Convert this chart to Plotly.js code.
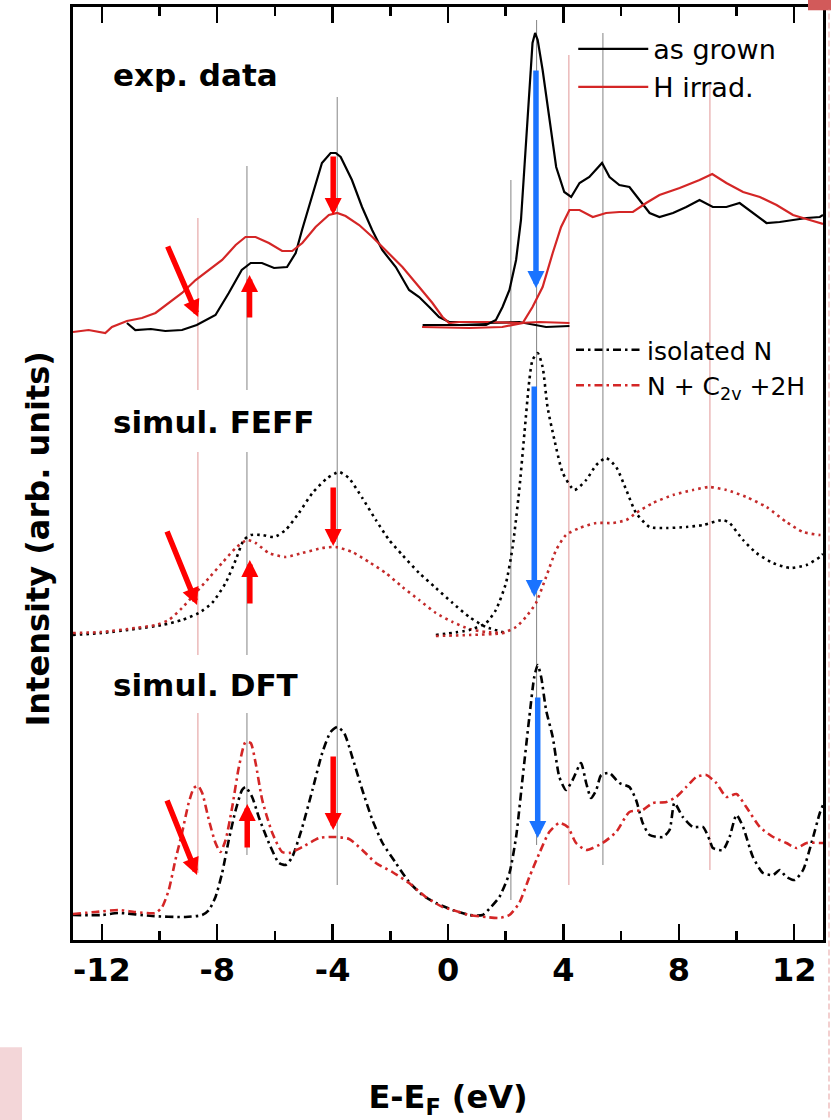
<!DOCTYPE html>
<html><head><meta charset="utf-8">
<script src="https://cdn.plot.ly/plotly-3.0.1.min.js"></script>
<style>html,body{margin:0;padding:0;background:#fff}#chart{width:831px;height:1120px}</style>
</head><body><div id="chart"></div>
<script>
// ---------- data (energy E-E_F in eV, intensity in arb. units) ----------
// exp. data, emission side (left block)
const expGrownXES_E = [-11.13,-10.84,-10.3,-9.8,-9.22,-8.71,-8.06,-7.60,-7.15,-6.84,-6.45,-6.03,-5.58,-5.28,-5.06,-4.72,-4.37,-4.07,-3.89,-3.72,-3.33,-2.98,-2.63,-2.28,-1.81,-1.35,-1.00,-0.65,-0.31,0.04,0.39,1.32,2.47,3.40,4.21];
const expGrownXES_I = [6.17,6.10,6.11,6.09,6.10,6.15,6.25,6.47,6.70,6.77,6.77,6.72,6.73,6.87,7.10,7.43,7.77,7.87,7.87,7.83,7.60,7.33,7.10,6.90,6.73,6.50,6.43,6.33,6.23,6.18,6.18,6.17,6.18,6.13,6.14];
const expIrrXES_E = [-13.0,-12.46,-11.88,-11.65,-11.13,-10.61,-10.14,-9.68,-9.22,-8.75,-8.29,-7.83,-7.36,-7.02,-6.67,-6.21,-5.75,-5.40,-5.05,-4.59,-4.13,-3.84,-3.55,-3.08,-2.62,-2.16,-1.58,-1.00,-0.54,-0.19,0.04,0.39,1.32,2.47,3.17,4.21];
const expIrrXES_I = [6.08,6.10,6.07,6.13,6.19,6.22,6.27,6.37,6.47,6.60,6.70,6.80,6.95,7.03,7.03,6.97,6.89,6.89,6.97,7.13,7.25,7.27,7.24,7.15,7.03,6.90,6.73,6.53,6.37,6.23,6.17,6.18,6.18,6.17,6.18,6.17];
// exp. data, absorption side (right block)
const expGrownXAS_E = [-0.88,0.16,1.32,1.66,1.89,2.13,2.36,2.53,2.68,2.82,2.93,3.02,3.11,3.28,3.51,3.75,4.03,4.27,4.56,4.90,5.34,5.60,5.94,6.29,6.64,6.99,7.33,7.80,8.26,8.72,9.18,9.65,10.11,10.57,11.04,11.50,11.96,12.43,12.89,13.0];
const expGrownXAS_I = [6.15,6.15,6.15,6.20,6.33,6.50,6.80,7.20,7.87,8.53,8.97,9.07,9.00,8.70,8.20,7.73,7.48,7.43,7.57,7.63,7.77,7.63,7.55,7.53,7.40,7.27,7.23,7.27,7.33,7.40,7.33,7.33,7.37,7.27,7.17,7.18,7.20,7.22,7.23,7.25];
const expIrrXAS_E = [-0.90,0.74,1.88,2.59,2.93,3.28,3.63,3.92,4.21,4.56,5.02,5.48,5.94,6.41,6.87,7.33,8.03,8.72,9.16,9.65,10.23,10.81,11.39,11.96,12.54,12.89,13.0];
const expIrrXAS_I = [6.13,6.12,6.13,6.17,6.33,6.53,6.87,7.13,7.30,7.30,7.23,7.27,7.28,7.28,7.37,7.45,7.52,7.60,7.66,7.57,7.48,7.43,7.35,7.25,7.20,7.17,7.16];

// simul. FEFF
const feffIsoL_E = [-13.0,-12.0,-10.84,-9.91,-9.22,-8.64,-8.18,-7.71,-7.36,-7.08,-6.84,-6.44,-6.03,-5.63,-5.17,-4.70,-4.18,-3.78,-3.44,-2.97,-2.50,-2.04,-1.58,-1.00,-0.42,0.16,0.74,1.32,2.01];
const feffIsoL_I = [3.05,3.07,3.11,3.15,3.20,3.27,3.37,3.57,3.80,4.00,4.05,4.05,4.03,4.10,4.27,4.47,4.62,4.68,4.62,4.42,4.20,4.00,3.85,3.67,3.52,3.37,3.23,3.13,3.07];
const feffIsoR_E = [-0.42,0.74,1.32,1.66,2.01,2.24,2.47,2.65,2.82,2.93,3.11,3.28,3.45,3.69,3.98,4.38,4.79,5.14,5.48,5.83,6.18,6.52,6.99,7.57,8.26,8.84,9.53,9.76,10.23,10.69,11.27,11.85,12.43,12.89,13.0];
const feffIsoR_I = [3.05,3.10,3.17,3.30,3.57,3.93,4.50,5.07,5.60,5.80,5.87,5.73,5.33,5.00,4.67,4.50,4.60,4.75,4.82,4.73,4.50,4.27,4.13,4.12,4.13,4.15,4.20,4.17,4.00,3.87,3.77,3.72,3.75,3.83,3.86];
const feffHL_E = [-13.0,-12.0,-10.84,-10.14,-9.68,-9.22,-8.75,-8.29,-7.83,-7.36,-6.96,-6.67,-6.21,-5.63,-5.05,-4.36,-3.89,-3.32,-2.74,-2.16,-1.58,-1.00,-0.42,0.16,0.74,1.32,2.01];
const feffHL_I = [3.07,3.08,3.12,3.15,3.20,3.32,3.47,3.62,3.77,3.92,4.00,3.97,3.87,3.83,3.87,3.92,3.93,3.88,3.78,3.67,3.53,3.40,3.27,3.18,3.11,3.08,3.07];
const feffHR_E = [-0.42,0.74,1.89,2.36,2.70,3.05,3.40,3.75,4.09,4.56,5.14,5.71,6.18,6.52,7.10,7.80,8.49,9.07,9.65,10.34,11.04,11.73,12.31,12.89,13.0];
const feffHR_I = [3.04,3.05,3.07,3.13,3.23,3.37,3.63,3.90,4.05,4.12,4.17,4.17,4.20,4.27,4.37,4.45,4.50,4.53,4.50,4.43,4.33,4.18,4.08,4.05,4.05];

// simul. DFT
const dftIso_E = [-13.0,-12.0,-11.42,-10.26,-9.10,-8.52,-8.29,-8.06,-7.83,-7.60,-7.36,-7.14,-7.02,-6.79,-6.56,-6.21,-5.86,-5.63,-5.40,-5.05,-4.70,-4.36,-4.07,-3.84,-3.60,-3.32,-2.97,-2.62,-2.27,-1.81,-1.35,-0.89,-0.42,0.16,0.74,1.20,1.49,1.78,2.13,2.36,2.59,2.82,2.99,3.11,3.23,3.40,3.63,3.86,4.09,4.32,4.61,4.79,4.96,5.14,5.31,5.60,5.94,6.29,6.52,6.75,6.99,7.45,7.68,7.85,8.14,8.49,8.84,9.07,9.18,9.53,9.76,10.00,10.23,10.57,10.92,11.27,11.50,11.73,12.02,12.31,12.60,12.89,13.0];
const dftIso_I = [0.25,0.25,0.27,0.24,0.23,0.25,0.30,0.43,0.67,1.00,1.30,1.50,1.53,1.43,1.23,0.97,0.77,0.75,0.83,1.13,1.50,1.87,2.08,2.13,2.07,1.83,1.50,1.20,0.97,0.77,0.58,0.45,0.37,0.30,0.25,0.25,0.33,0.43,0.67,1.03,1.63,2.23,2.63,2.75,2.63,2.30,2.03,1.63,1.50,1.60,1.77,1.57,1.42,1.50,1.65,1.67,1.57,1.53,1.40,1.17,1.05,1.03,1.10,1.37,1.23,1.13,1.13,1.00,0.92,0.90,1.03,1.25,1.13,0.83,0.67,0.65,0.70,0.63,0.60,0.70,0.97,1.27,1.35];
const dftH_E = [-13.0,-12.23,-11.42,-10.84,-10.14,-9.91,-9.68,-9.45,-9.22,-8.99,-8.81,-8.66,-8.52,-8.29,-8.06,-7.89,-7.71,-7.48,-7.25,-7.02,-6.84,-6.67,-6.44,-6.09,-5.75,-5.51,-5.05,-4.47,-3.89,-3.43,-2.97,-2.50,-1.93,-1.35,-0.77,-0.19,0.16,0.74,1.32,1.78,2.13,2.47,2.82,3.17,3.51,3.86,4.15,4.44,4.79,5.36,5.83,6.29,6.75,7.10,7.57,7.91,8.26,8.61,8.95,9.30,9.65,10.00,10.34,10.81,11.27,11.73,12.08,12.43,12.89,13.0];
const dftH_I = [0.26,0.28,0.30,0.28,0.27,0.33,0.50,0.80,1.07,1.37,1.52,1.54,1.47,1.20,0.97,0.88,1.00,1.33,1.73,1.98,1.97,1.77,1.40,1.07,0.88,0.87,0.93,1.02,1.03,1.01,0.90,0.77,0.68,0.57,0.43,0.33,0.30,0.25,0.23,0.22,0.25,0.37,0.63,0.87,1.08,1.17,1.13,0.97,0.90,0.97,1.08,1.28,1.30,1.37,1.38,1.43,1.53,1.63,1.65,1.57,1.43,1.46,1.33,1.13,1.03,0.97,0.92,0.97,0.97,0.97];

// axis tick labels
const tickVals = [-12,-8,-4,0,4,8,12];
const tickText = ['-12','-8','-4','0','4','8','12'];

// vertical guide lines (energy, top, bottom)
const guideGrayE = [-6.97,-6.97,-6.97,-3.84,2.18,3.07,5.37];
const guideGrayTop = [7.74,4.88,2.27,8.43,7.60,9.20,9.07];
const guideGrayBot = [5.50,2.85,0.85,0.55,0.40,0.95,0.75];
const guideRedE = [-8.67,-8.67,-8.67,4.19,9.08];
const guideRedTop = [7.22,4.88,2.27,8.85,8.57];
const guideRedBot = [5.50,2.85,0.67,0.55,0.70];

// arrows: tip (E,I) and tail (E,I)
const redTipE  = [-8.66,-6.88,-3.98, -8.70,-6.87,-3.98, -8.70,-6.96,-3.98];
const redTipI  = [ 6.23, 6.65, 7.25,  3.35, 3.80, 3.94,  0.65, 1.36, 1.10];
const redTailE = [-9.74,-6.88,-3.98, -9.76,-6.87,-3.98, -9.76,-6.96,-3.98];
const redTailI = [ 6.95, 6.21, 7.85,  4.10, 3.35, 4.54,  1.41, 0.91, 1.85];
const blueTipE  = [3.05, 2.99, 3.11];
const blueTipI  = [6.52, 3.43, 1.02];
const blueTailE = [3.05, 2.99, 3.11];
const blueTailI = [8.71, 5.55, 2.44];

// panel labels
const panelLabels = ['exp. data','simul. FEFF','simul. DFT'];

// ---------- styling ----------
const FAM = 'DejaVu Sans, Liberation Sans, Arial, sans-serif';
const BOLD = {family: FAM, size: 32, color: '#000', weight: 'bold'};
const RED = '#d42626';
const FEFFRED = '#c42a2a';

const traces = [
  {x: expGrownXES_E, y: expGrownXES_I, mode:'lines', name:'as grown', legend:'legend', legendgroup:'g', line:{color:'#000', width:2.2}},
  {x: expIrrXES_E, y: expIrrXES_I, mode:'lines', name:'H irrad.', legend:'legend', legendgroup:'h', line:{color:RED, width:2.2}},
  {x: expGrownXAS_E, y: expGrownXAS_I, mode:'lines', name:'as grown', legendgroup:'g', showlegend:false, line:{color:'#000', width:2.2}},
  {x: expIrrXAS_E, y: expIrrXAS_I, mode:'lines', name:'H irrad.', legendgroup:'h', showlegend:false, line:{color:RED, width:2.2}},
  {x: feffIsoL_E, y: feffIsoL_I, mode:'lines', showlegend:false, line:{color:'#000', width:2.6, dash:'2.6px,4px', shape:'spline', smoothing:0.6}},
  {x: feffHL_E, y: feffHL_I, mode:'lines', showlegend:false, line:{color:FEFFRED, width:2.6, dash:'2.6px,4px', shape:'spline', smoothing:0.6}},
  {x: feffIsoR_E, y: feffIsoR_I, mode:'lines', showlegend:false, line:{color:'#000', width:2.6, dash:'2.6px,4px', shape:'spline', smoothing:0.6}},
  {x: feffHR_E, y: feffHR_I, mode:'lines', showlegend:false, line:{color:FEFFRED, width:2.6, dash:'2.6px,4px', shape:'spline', smoothing:0.6}},
  {x: dftIso_E, y: dftIso_I, mode:'lines', name:'isolated N', legend:'legend2', line:{color:'#000', width:2.6, dash:'8px,4px,2.5px,4px', shape:'spline', smoothing:0.6}},
  {x: dftH_E, y: dftH_I, mode:'lines', name:'N + C<sub>2v</sub> +2H', legend:'legend2', line:{color:RED, width:2.6, dash:'8px,4px,2.5px,4px', shape:'spline', smoothing:0.6}}
];

const shapes = [];
guideGrayE.forEach((e,i)=>shapes.push({type:'line', xref:'x', yref:'y', x0:e, x1:e, y0:guideGrayBot[i], y1:guideGrayTop[i], layer:'below', line:{color:'#8f8f8f', width:1.1}}));
guideRedE.forEach((e,i)=>shapes.push({type:'line', xref:'x', yref:'y', x0:e, x1:e, y0:guideRedBot[i], y1:guideRedTop[i], layer:'below', line:{color:'#e4a0a0', width:1.1}}));
// scan-edge marks of the source picture
shapes.push({type:'rect', xref:'paper', yref:'paper', x0:0.98, x1:1.02, y0:0.9965, y1:1.02, line:{width:0}, fillcolor:'#d25a5a'});
shapes.push({type:'line', xref:'paper', yref:'paper', x0:1.008, x1:1.008, y0:-0.2, y1:0.997, line:{color:'#f0c0c0', width:1.5, dash:'6px,3px'}});
shapes.push({type:'rect', xref:'paper', yref:'paper', x0:-0.1, x1:-0.068, y0:-0.193, y1:-0.115, line:{width:0}, fillcolor:'#f3d6d8'});

const annotations = [];
redTipE.forEach((e,i)=>annotations.push({xref:'x', yref:'y', axref:'x', ayref:'y', x:e, y:redTipI[i], ax:redTailE[i], ay:redTailI[i], text:'', showarrow:true, arrowhead:2, arrowsize:0.62, arrowwidth:5.5, arrowcolor:'#ff0000'}));
blueTipE.forEach((e,i)=>annotations.push({xref:'x', yref:'y', axref:'x', ayref:'y', x:e, y:blueTipI[i], ax:blueTailE[i], ay:blueTailI[i], text:'', showarrow:true, arrowhead:2, arrowsize:0.62, arrowwidth:5.5, arrowcolor:'#1a73ff'}));
const labelY = [0.927, 0.555, 0.273];
panelLabels.forEach((t,i)=>annotations.push({xref:'paper', yref:'paper', x:0.05, y:labelY[i], xanchor:'left', yanchor:'middle', text:t, showarrow:false, font:{family:FAM, size:31, color:'#000', weight:'bold'}}));
annotations.push({xref:'paper', yref:'paper', x:-0.047, y:0.43, xanchor:'center', yanchor:'middle', textangle:-90, text:'Intensity (arb. units)', showarrow:false, font:BOLD});

const layout = {
  width:831, height:1120,
  margin:{l:73, r:8, t:7, b:180},
  paper_bgcolor:'#fff', plot_bgcolor:'#fff',
  font:{family:FAM, color:'#000'},
  xaxis:{range:[-13,13], tickmode:'array', tickvals:tickVals, ticktext:tickText,
    ticks:'inside', ticklen:16, tickwidth:2.5, tickcolor:'#000',
    minor:{tickmode:'linear', tick0:-12, dtick:2, ticks:'inside', ticklen:9, tickwidth:2.5, tickcolor:'#000', showgrid:false},
    showline:true, linewidth:3, linecolor:'#000', mirror:'ticks', showgrid:false, zeroline:false,
    tickfont:BOLD, ticklabelstandoff:0,
    title:{text:'E-E<sub>F</sub> (eV)', font:BOLD, standoff:100}},
  yaxis:{range:[0,9.33], showticklabels:false, ticks:'', showline:true, linewidth:3, linecolor:'#000', mirror:true, showgrid:false, zeroline:false},
  showlegend:true,
  legend:{x:0.667, y:0.981, xanchor:'left', yanchor:'top', bgcolor:'rgba(0,0,0,0)', borderwidth:0, itemwidth:70, tracegroupgap:0, font:{family:FAM, size:27, color:'#000'}},
  legend2:{x:0.664, y:0.657, xanchor:'left', yanchor:'top', bgcolor:'rgba(0,0,0,0)', borderwidth:0, itemwidth:66, tracegroupgap:0, font:{family:FAM, size:25, color:'#000'}},
  shapes:shapes, annotations:annotations
};
Plotly.newPlot('chart', traces, layout, {staticPlot:true, displayModeBar:false});
</script></body></html>
